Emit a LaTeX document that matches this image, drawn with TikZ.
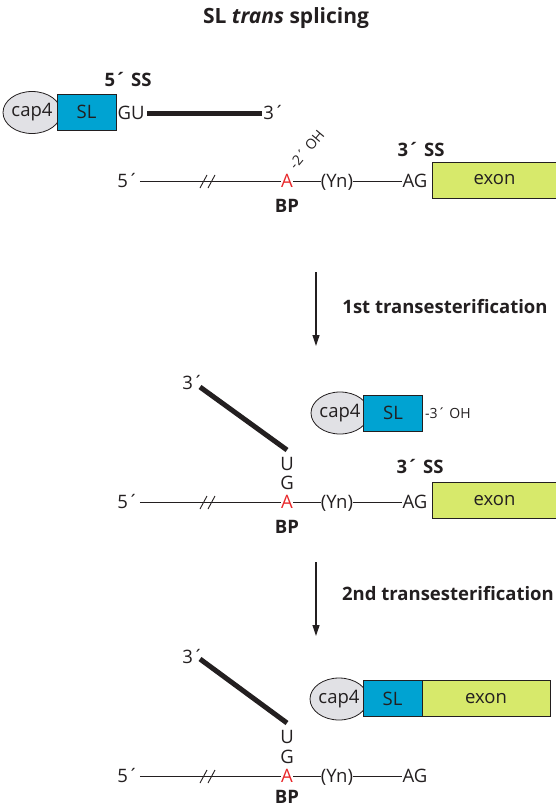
\documentclass[tikz,border=0pt]{standalone}
\usepackage{fontspec}
\setmainfont{Open Sans}
\usetikzlibrary{arrows.meta,shapes.geometric}
\definecolor{slblue}{HTML}{00A3D2}
\definecolor{exongreen}{HTML}{D7E96B}
\definecolor{capgray}{HTML}{E1E1E5}
\definecolor{bpred}{HTML}{E8282B}
\definecolor{ink}{HTML}{231F20}
\begin{document}
\begin{tikzpicture}[x=1pt,y=-1pt,
  lbl/.style={font=\fontsize{18.5}{18.5}\selectfont, inner sep=0pt, text height=13pt, text depth=0pt, text=ink},
  boldlbl/.style={font=\fontsize{18.5}{18.5}\selectfont\bfseries, inner sep=0pt, text height=13pt, text depth=0pt, text=ink},
  smalllbl/.style={font=\fontsize{14}{14}\selectfont, inner sep=0pt, text height=10pt, text depth=0pt, text=ink},
  redA/.style={lbl, text=bpred},
  capnode/.style={ellipse, draw=ink, line width=0.8pt, fill=capgray, minimum width=46pt, minimum height=42pt, inner sep=0pt, font=\fontsize{18.5}{18.5}\selectfont, text=ink},
  slbox/.style={rectangle, draw=ink, line width=0.8pt, fill=slblue, minimum width=59pt, minimum height=36pt, inner sep=0pt, font=\fontsize{18.5}{18.5}\selectfont, text=ink},
  exonbox/.style={rectangle, draw=ink, line width=0.8pt, fill=exongreen, minimum height=36pt, inner sep=0pt, font=\fontsize{18.5}{18.5}\selectfont, text=ink},
  backbone/.style={draw=ink, line width=0.9pt},
  rna/.style={draw=ink, line width=5pt},
  steparrow/.style={draw=ink, line width=1.2pt, -{Triangle[length=11pt,width=7pt]}},
]
\useasboundingbox (0,0) rectangle (556,808);

% title
\node[boldlbl, font=\fontsize{21}{21}\selectfont\bfseries] (title) at (286,17) {SL \textit{trans} splicing};

% ---------- panel 1 ----------
\node[capnode] (cap1) at (32,112.5) {cap4};
\node[slbox] (sl1) at (86.5,112) {SL};
\node[lbl] (gu1) at (131,113) {GU};
\node[lbl] (tp1) at (274,113) {3´};
\coordinate (r1a) at (147,113);
\coordinate (r1b) at (262,113);
\draw[rna] (r1a) -- (r1b);
\node[boldlbl] (ss5) at (128,80) {5´ SS};

\node[lbl] (f1) at (128,181) {5´};
\node[redA] (a1) at (287,181) {A};
\node[lbl] (yn1) at (337,181) {(Yn)};
\node[lbl] (ag1) at (415,181) {AG};
\node[exonbox, minimum width=125pt] (ex1) at (494.5,180) {exon};
\node[boldlbl] (ss31) at (421,150) {3´ SS};
\node[boldlbl] (bp1) at (287,206) {BP};
\node[smalllbl, anchor=west, rotate=50] (oh1) at (292,167) {-2´ OH};
\draw[backbone] (f1.east) ++(1,0) -- (a1.west);
\draw[backbone] (a1.east) -- (yn1.west);
\draw[backbone] (yn1.east) -- (ag1.west);
\draw[backbone] (200,188) -- (207,175) (208,188) -- (215,175);

% arrow 1
\coordinate (s1a) at (316,272);
\coordinate (s1b) at (316,346);
\draw[steparrow] (s1a) -- (s1b);
\node[boldlbl] (t1) at (445,307) {1st transesterification};

% ---------- panel 2 ----------
\node[lbl] (tp2) at (193,383) {3´};
\coordinate (r2a) at (200,387);
\coordinate (r2b) at (287,450);
\draw[rna] (r2a) -- (r2b);
\node[lbl] (u2) at (287,464) {U};
\node[lbl] (g2) at (287,483) {G};
\node[redA] (a2) at (287,502) {A};
\node[boldlbl] (bp2) at (287,527) {BP};
\node[capnode] (cap2) at (340,413) {cap4};
\node[slbox] (sl2) at (393,413) {SL};
\node[smalllbl, anchor=west] (oh2) at (425,413) {-3´ OH};
\node[boldlbl] (ss32) at (420,467) {3´ SS};

\node[lbl] (f2) at (128,502) {5´};
\node[lbl] (yn2) at (337,502) {(Yn)};
\node[lbl] (ag2) at (415,502) {AG};
\node[exonbox, minimum width=125pt] (ex2) at (494.5,500.5) {exon};
\draw[backbone] (f2.east) ++(1,0) -- (a2.west);
\draw[backbone] (a2.east) -- (yn2.west);
\draw[backbone] (yn2.east) -- (ag2.west);
\draw[backbone] (200,509) -- (207,496) (208,509) -- (215,496);

% arrow 2
\coordinate (s2a) at (316,562);
\coordinate (s2b) at (316,636);
\draw[steparrow] (s2a) -- (s2b);
\node[boldlbl] (t2) at (448,594) {2nd transesterification};

% ---------- panel 3 ----------
\node[lbl] (tp3) at (193,657) {3´};
\coordinate (r3a) at (200,659);
\coordinate (r3b) at (287,723);
\draw[rna] (r3a) -- (r3b);
\node[lbl] (u3) at (287,737) {U};
\node[lbl] (g3) at (287,757) {G};
\node[redA] (a3) at (287,776) {A};
\node[boldlbl] (bp3) at (287,797) {BP};
\node[capnode] (cap3) at (339,699) {cap4};
\node[slbox] (sl3) at (392.5,698.5) {SL};
\node[exonbox, minimum width=128pt] (ex3) at (486,698.5) {exon};

\node[lbl] (f3) at (128,776) {5´};
\node[lbl] (yn3) at (337,776) {(Yn)};
\node[lbl] (ag3) at (415,776) {AG};
\draw[backbone] (f3.east) ++(1,0) -- (a3.west);
\draw[backbone] (a3.east) -- (yn3.west);
\draw[backbone] (yn3.east) -- (ag3.west);
\draw[backbone] (200,783) -- (207,770) (208,783) -- (215,770);
\end{tikzpicture}
\end{document}
